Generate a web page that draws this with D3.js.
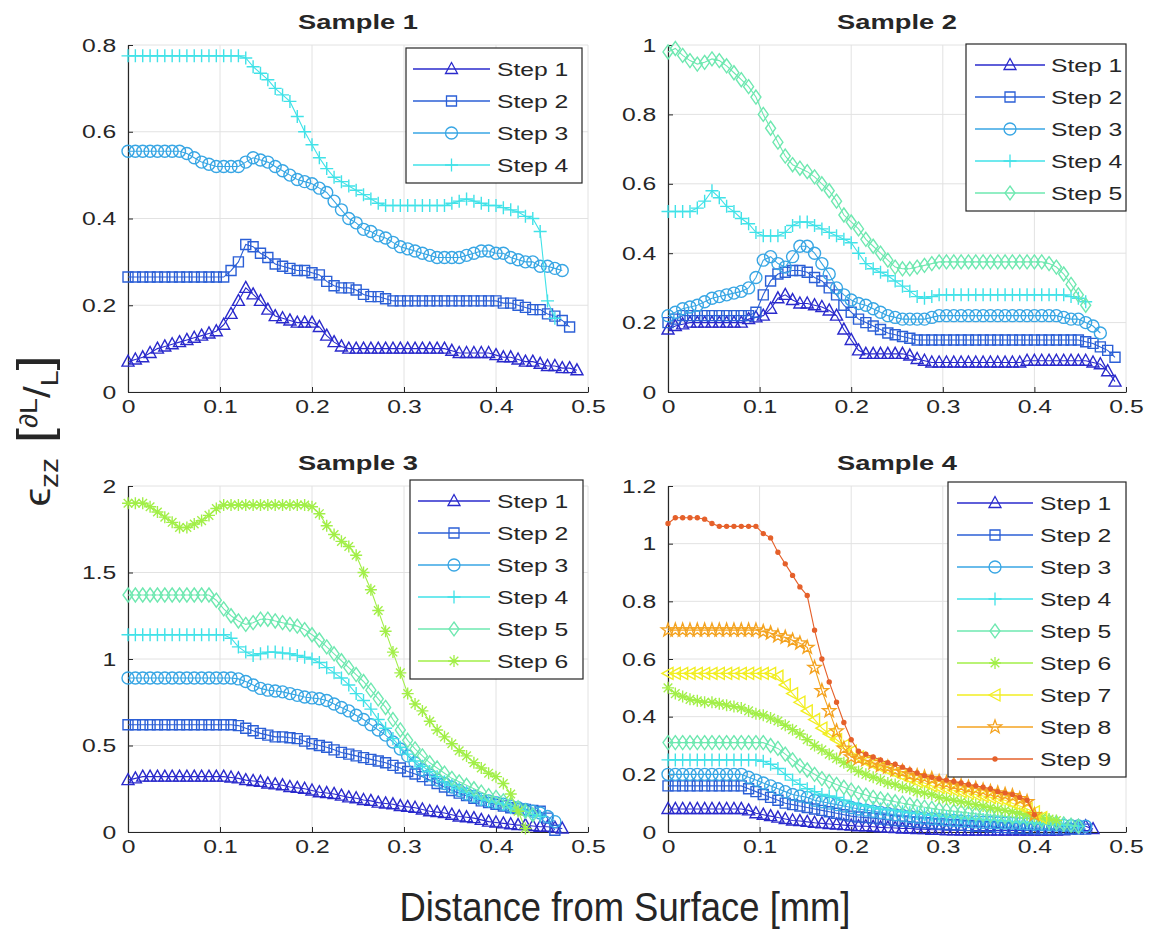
<!DOCTYPE html>
<html lang="en">
<head>
<meta charset="UTF-8">
<title>Strain vs distance from surface</title>
<script src="https://d3js.org/d3.v7.min.js"></script>
<style>
    body { margin: 0; background: #fff; }
    svg { display: block; }
</style>
</head>
<body>
<svg width="1151" height="929"></svg>
<script>
// sampling grid along the depth [mm]
const X = [0,0.008,0.016,0.024,0.032,0.04,0.048,0.056,0.064,0.072,
    0.08,0.088,0.096,0.104,0.112,0.12,0.128,0.136,0.144,0.152,
    0.16,0.168,0.176,0.184,0.192,0.2,0.208,0.216,0.224,0.232,
    0.24,0.248,0.256,0.264,0.272,0.28,0.288,0.296,0.304,0.312,
    0.32,0.328,0.336,0.344,0.352,0.36,0.368,0.376,0.384,0.392,
    0.4,0.408,0.416,0.424,0.432,0.44,0.448,0.456,0.464,0.472,
    0.48,0.488];

// Sample 1
const s1_step1 = [0.07,0.075,0.08,0.09,0.10,0.105,0.11,0.115,0.12,0.125,
    0.13,0.135,0.14,0.155,0.18,0.21,0.24,0.225,0.21,0.19,
    0.175,0.17,0.165,0.16,0.16,0.16,0.15,0.13,0.115,0.105,
    0.10,0.10,0.10,0.10,0.10,0.10,0.10,0.10,0.10,0.10,
    0.10,0.10,0.10,0.10,0.095,0.09,0.09,0.09,0.09,0.09,
    0.085,0.08,0.08,0.075,0.07,0.07,0.065,0.06,0.06,0.055,
    0.055,0.05];
const s1_step2 = [0.265,0.265,0.265,0.265,0.265,0.265,0.265,0.265,0.265,0.265,
    0.265,0.265,0.265,0.265,0.28,0.30,0.34,0.335,0.32,0.31,
    0.295,0.29,0.285,0.28,0.28,0.275,0.27,0.255,0.245,0.24,
    0.24,0.235,0.225,0.22,0.22,0.215,0.21,0.21,0.21,0.21,
    0.21,0.21,0.21,0.21,0.21,0.21,0.21,0.21,0.21,0.21,
    0.21,0.205,0.205,0.20,0.195,0.19,0.19,0.18,0.175,0.165,
    0.15];
const s1_step3 = [0.555,0.555,0.555,0.555,0.555,0.555,0.555,0.555,0.55,0.54,
    0.53,0.525,0.52,0.52,0.52,0.52,0.53,0.54,0.535,0.53,
    0.52,0.51,0.50,0.49,0.485,0.48,0.47,0.46,0.44,0.42,
    0.40,0.39,0.375,0.37,0.36,0.355,0.345,0.335,0.33,0.325,
    0.32,0.315,0.31,0.31,0.31,0.31,0.315,0.32,0.325,0.325,
    0.32,0.32,0.31,0.305,0.30,0.30,0.29,0.29,0.285,0.28];
const s1_step4 = [0.775,0.775,0.775,0.775,0.775,0.775,0.775,0.775,0.775,0.775,
    0.775,0.775,0.775,0.775,0.775,0.775,0.77,0.75,0.735,0.72,
    0.70,0.685,0.67,0.635,0.60,0.57,0.54,0.515,0.495,0.485,
    0.475,0.465,0.455,0.445,0.435,0.43,0.43,0.43,0.43,0.43,
    0.43,0.43,0.43,0.43,0.435,0.44,0.445,0.44,0.435,0.43,
    0.43,0.425,0.42,0.415,0.405,0.40,0.37,0.21,0.17];

// Sample 2
const s2_step1 = [0.18,0.19,0.195,0.20,0.20,0.20,0.20,0.20,0.20,0.20,
    0.20,0.21,0.215,0.22,0.24,0.27,0.28,0.265,0.255,0.255,
    0.25,0.245,0.235,0.22,0.18,0.15,0.12,0.11,0.11,0.11,
    0.11,0.11,0.11,0.105,0.095,0.09,0.085,0.085,0.085,0.085,
    0.085,0.085,0.085,0.085,0.085,0.085,0.085,0.085,0.085,0.09,
    0.09,0.09,0.09,0.09,0.09,0.09,0.09,0.09,0.085,0.08,
    0.06,0.03];
const s2_step2 = [0.20,0.21,0.22,0.22,0.22,0.22,0.22,0.22,0.22,0.22,
    0.22,0.22,0.23,0.28,0.32,0.34,0.345,0.35,0.35,0.345,
    0.33,0.32,0.30,0.28,0.25,0.23,0.21,0.20,0.19,0.18,
    0.17,0.165,0.16,0.155,0.15,0.15,0.15,0.15,0.15,0.15,
    0.15,0.15,0.15,0.15,0.15,0.15,0.15,0.15,0.15,0.15,
    0.15,0.15,0.15,0.15,0.15,0.15,0.15,0.145,0.14,0.13,
    0.12,0.10];
const s2_step3 = [0.22,0.23,0.24,0.245,0.25,0.26,0.27,0.275,0.28,0.285,
    0.29,0.30,0.33,0.38,0.39,0.37,0.36,0.39,0.42,0.42,
    0.40,0.37,0.34,0.30,0.28,0.265,0.255,0.25,0.24,0.23,
    0.22,0.215,0.21,0.21,0.21,0.21,0.215,0.22,0.22,0.22,
    0.22,0.22,0.22,0.22,0.22,0.22,0.22,0.22,0.22,0.22,
    0.22,0.22,0.22,0.22,0.215,0.21,0.21,0.20,0.19,0.17];
const s2_step4 = [0.52,0.52,0.52,0.52,0.53,0.55,0.58,0.56,0.535,0.52,
    0.50,0.485,0.46,0.45,0.45,0.45,0.46,0.48,0.49,0.49,
    0.48,0.47,0.46,0.45,0.44,0.43,0.40,0.37,0.355,0.345,
    0.335,0.32,0.305,0.29,0.275,0.27,0.275,0.28,0.28,0.28,
    0.28,0.28,0.28,0.28,0.28,0.28,0.28,0.28,0.28,0.28,
    0.28,0.28,0.28,0.28,0.28,0.275,0.27,0.26];
const s2_step5 = [0.98,0.99,0.97,0.955,0.945,0.95,0.96,0.955,0.94,0.92,
    0.90,0.88,0.85,0.80,0.76,0.72,0.68,0.655,0.645,0.635,
    0.62,0.60,0.58,0.55,0.51,0.49,0.47,0.44,0.42,0.40,
    0.38,0.36,0.355,0.355,0.36,0.365,0.37,0.375,0.375,0.375,
    0.375,0.375,0.375,0.375,0.375,0.375,0.375,0.375,0.375,0.375,
    0.375,0.375,0.37,0.36,0.34,0.31,0.28,0.25];

// Sample 3
const s3_step1 = [0.30,0.31,0.32,0.32,0.32,0.32,0.32,0.32,0.32,0.32,
    0.32,0.32,0.32,0.32,0.315,0.31,0.30,0.295,0.29,0.28,
    0.275,0.27,0.26,0.255,0.25,0.24,0.23,0.225,0.22,0.21,
    0.20,0.195,0.185,0.18,0.17,0.165,0.16,0.15,0.145,0.14,
    0.13,0.12,0.115,0.11,0.10,0.09,0.085,0.08,0.07,0.06,
    0.055,0.05,0.045,0.04,0.04,0.035,0.03,0.03,0.025,0.02];
const s3_step2 = [0.62,0.62,0.62,0.62,0.62,0.62,0.62,0.62,0.62,0.62,
    0.62,0.62,0.62,0.62,0.62,0.615,0.60,0.585,0.57,0.56,
    0.55,0.55,0.545,0.54,0.525,0.51,0.50,0.49,0.475,0.46,
    0.45,0.44,0.43,0.42,0.41,0.40,0.385,0.37,0.35,0.335,
    0.32,0.30,0.28,0.26,0.24,0.225,0.21,0.195,0.18,0.17,
    0.16,0.15,0.14,0.135,0.13,0.125,0.12,0.08,0.01];
const s3_step3 = [0.89,0.89,0.89,0.89,0.89,0.89,0.89,0.89,0.89,0.89,
    0.89,0.89,0.89,0.89,0.89,0.885,0.87,0.85,0.83,0.82,
    0.815,0.81,0.80,0.79,0.78,0.775,0.77,0.76,0.74,0.72,
    0.70,0.675,0.65,0.62,0.59,0.56,0.52,0.48,0.44,0.40,
    0.36,0.33,0.30,0.28,0.26,0.24,0.22,0.205,0.19,0.18,
    0.17,0.16,0.15,0.14,0.13,0.12,0.11,0.09,0.06];
const s3_step4 = [1.14,1.14,1.14,1.14,1.14,1.14,1.14,1.14,1.14,1.14,
    1.14,1.14,1.14,1.14,1.12,1.07,1.04,1.02,1.03,1.04,
    1.04,1.035,1.03,1.02,1.01,1.00,0.98,0.95,0.92,0.89,
    0.85,0.80,0.76,0.71,0.65,0.60,0.54,0.49,0.45,0.41,
    0.38,0.35,0.32,0.29,0.27,0.25,0.23,0.21,0.19,0.18,
    0.17,0.16,0.14,0.13,0.12,0.10,0.09];
const s3_step5 = [1.37,1.37,1.37,1.37,1.37,1.37,1.37,1.37,1.37,1.37,
    1.37,1.37,1.34,1.29,1.25,1.22,1.20,1.21,1.23,1.23,
    1.22,1.21,1.20,1.19,1.17,1.14,1.11,1.07,1.03,0.99,
    0.95,0.91,0.87,0.82,0.77,0.72,0.65,0.59,0.53,0.48,
    0.44,0.40,0.37,0.34,0.31,0.29,0.27,0.25,0.23,0.21,
    0.20,0.18,0.16,0.14,0.12,0.10];
const s3_step6 = [1.90,1.90,1.90,1.88,1.85,1.82,1.79,1.76,1.76,1.78,
    1.80,1.83,1.87,1.89,1.89,1.89,1.89,1.89,1.89,1.89,
    1.89,1.89,1.89,1.89,1.89,1.88,1.84,1.77,1.72,1.68,
    1.65,1.60,1.50,1.40,1.28,1.16,1.04,0.92,0.80,0.74,
    0.70,0.64,0.59,0.55,0.51,0.47,0.44,0.40,0.37,0.34,
    0.32,0.28,0.22,0.12,0.02];

// Sample 4
const s4_step1 = [0.08,0.08,0.08,0.08,0.08,0.08,0.08,0.08,0.08,0.08,
    0.08,0.075,0.065,0.06,0.055,0.05,0.045,0.04,0.038,0.035,
    0.032,0.03,0.028,0.026,0.024,0.022,0.02,0.02,0.018,0.016,
    0.015,0.014,0.012,0.012,0.01,0.01,0.008,0.008,0.006,0.006,
    0.005,0.005,0.005,0.005,0.005,0.005,0.005,0.005,0.005,0.005,
    0.005,0.005,0.005,0.005,0.006,0.01,0.02,0.02,0.01];
const s4_step2 = [0.16,0.16,0.16,0.16,0.16,0.16,0.16,0.16,0.16,0.16,
    0.16,0.15,0.14,0.13,0.12,0.11,0.10,0.095,0.09,0.085,
    0.08,0.075,0.07,0.065,0.06,0.055,0.052,0.05,0.048,0.045,
    0.042,0.04,0.038,0.036,0.034,0.032,0.03,0.028,0.026,0.025,
    0.024,0.022,0.02,0.02,0.018,0.016,0.015,0.014,0.013,0.012,
    0.011,0.01,0.01,0.01,0.01,0.01,0.01,0.01];
const s4_step3 = [0.20,0.20,0.20,0.20,0.20,0.20,0.20,0.20,0.20,0.20,
    0.20,0.19,0.18,0.17,0.16,0.15,0.14,0.13,0.125,0.12,
    0.11,0.105,0.10,0.095,0.09,0.085,0.08,0.076,0.072,0.068,
    0.064,0.06,0.057,0.054,0.051,0.048,0.046,0.044,0.042,0.04,
    0.038,0.036,0.035,0.034,0.033,0.032,0.031,0.03,0.029,0.028,
    0.027,0.026,0.025,0.024,0.023,0.022,0.021,0.02];
const s4_step4 = [0.25,0.25,0.25,0.25,0.25,0.25,0.25,0.25,0.25,0.25,
    0.25,0.25,0.25,0.245,0.235,0.22,0.20,0.18,0.165,0.15,
    0.14,0.13,0.125,0.12,0.11,0.10,0.095,0.09,0.085,0.08,
    0.077,0.074,0.07,0.067,0.064,0.061,0.058,0.055,0.053,0.051,
    0.049,0.047,0.045,0.043,0.041,0.04,0.038,0.036,0.034,0.033,
    0.032,0.03,0.028,0.026,0.024,0.022,0.02];
const s4_step5 = [0.31,0.31,0.31,0.31,0.31,0.31,0.31,0.31,0.31,0.31,
    0.31,0.31,0.31,0.31,0.30,0.29,0.27,0.25,0.23,0.215,
    0.20,0.185,0.175,0.165,0.155,0.145,0.135,0.128,0.12,0.115,
    0.11,0.105,0.10,0.095,0.09,0.086,0.082,0.078,0.075,0.072,
    0.069,0.066,0.063,0.06,0.058,0.056,0.054,0.052,0.05,0.047,
    0.044,0.04,0.036,0.032,0.028,0.024,0.02];
const s4_step6 = [0.50,0.48,0.47,0.46,0.455,0.45,0.45,0.445,0.44,0.435,
    0.43,0.42,0.41,0.405,0.395,0.385,0.37,0.355,0.34,0.32,
    0.30,0.285,0.27,0.255,0.24,0.225,0.21,0.20,0.19,0.18,
    0.17,0.165,0.155,0.15,0.14,0.135,0.13,0.12,0.115,0.11,
    0.105,0.10,0.095,0.09,0.085,0.08,0.075,0.07,0.065,0.06,
    0.055,0.05,0.045,0.04];
const s4_step7 = [0.55,0.55,0.55,0.55,0.55,0.55,0.55,0.55,0.55,0.55,
    0.55,0.55,0.55,0.55,0.55,0.54,0.51,0.48,0.45,0.42,
    0.39,0.36,0.34,0.32,0.30,0.28,0.26,0.245,0.235,0.225,
    0.215,0.205,0.195,0.185,0.175,0.17,0.16,0.155,0.15,0.145,
    0.14,0.135,0.13,0.125,0.12,0.115,0.11,0.10,0.09,0.08,
    0.07,0.05];
const s4_step8 = [0.70,0.70,0.70,0.70,0.70,0.70,0.70,0.70,0.70,0.70,
    0.70,0.70,0.70,0.695,0.69,0.68,0.675,0.665,0.655,0.64,
    0.57,0.49,0.42,0.35,0.29,0.26,0.255,0.25,0.24,0.23,
    0.225,0.215,0.21,0.20,0.195,0.19,0.185,0.175,0.17,0.165,
    0.16,0.155,0.15,0.145,0.14,0.135,0.13,0.125,0.115,0.105,
    0.06];
const s4_step9 = [1.07,1.09,1.09,1.09,1.09,1.085,1.07,1.06,1.06,1.06,
    1.06,1.06,1.06,1.035,1.02,0.97,0.93,0.89,0.85,0.82,
    0.70,0.60,0.52,0.45,0.38,0.32,0.28,0.27,0.26,0.25,
    0.24,0.235,0.225,0.215,0.205,0.195,0.19,0.185,0.18,0.175,
    0.17,0.165,0.16,0.155,0.15,0.14,0.135,0.13,0.12,0.11,
    0.06];

const sampleTitles = ["Sample 1", "Sample 2", "Sample 3", "Sample 4"];
const stepNames = ["Step 1","Step 2","Step 3","Step 4","Step 5","Step 6","Step 7","Step 8","Step 9"];
const stepColors = ["#2a2acc","#2b5fd6","#38a6e4","#40e2e8","#6ee8b0","#a2ef48","#f2ee22","#f4a320","#e5602a"];
const stepMarkers = ["triangle","square","circle","plus","diamond","asterisk","triangleLeft","pentagram","point"];
const xTicks = [0, 0.1, 0.2, 0.3, 0.4, 0.5];
const yTicks1 = [0, 0.2, 0.4, 0.6, 0.8];
const yTicks2 = [0, 0.2, 0.4, 0.6, 0.8, 1];
const yTicks3 = [0, 0.5, 1, 1.5, 2];
const yTicks4 = [0, 0.2, 0.4, 0.6, 0.8, 1, 1.2];

const FONT = "'Liberation Sans', Arial, Helvetica, sans-serif";
const INK = "#262626";
const STRETCH = 1.3;   // text in the original figure is stretched sideways

const panels = [
    {title: sampleTitles[0], series: [s1_step1, s1_step2, s1_step3, s1_step4], yTicks: yTicks1,
     left: 128, right: 588, top: 45, bottom: 392,
     leg: {x: 406, y: 48, w: 176, l0: 413, l1: 490, tx: 497}},
    {title: sampleTitles[1], series: [s2_step1, s2_step2, s2_step3, s2_step4, s2_step5], yTicks: yTicks2,
     left: 668, right: 1126, top: 45, bottom: 392,
     leg: {x: 966, y: 44, w: 160, l0: 975, l1: 1045, tx: 1051}},
    {title: sampleTitles[2], series: [s3_step1, s3_step2, s3_step3, s3_step4, s3_step5, s3_step6], yTicks: yTicks3,
     left: 128, right: 588, top: 486, bottom: 832,
     leg: {x: 410, y: 480, w: 173, l0: 418, l1: 490, tx: 497}},
    {title: sampleTitles[3], series: [s4_step1, s4_step2, s4_step3, s4_step4, s4_step5, s4_step6, s4_step7, s4_step8, s4_step9], yTicks: yTicks4,
     left: 668, right: 1126, top: 486, bottom: 832,
     leg: {x: 948, y: 482, w: 178, l0: 957, l1: 1033, tx: 1040}}
];

const svg = d3.select("svg");

// marker shapes, centred on 0,0
function markerPath(type) {
    switch (type) {
        case "triangle": return "M0,-6.5L6,4.5L-6,4.5Z";
        case "square": return "M-5,-5h10v10h-10Z";
        case "circle": return "M6,0A6,6 0 1,1 -6,0A6,6 0 1,1 6,0Z";
        case "plus": return "M-6.5,0H6.5M0,-6.5V6.5";
        case "diamond": return "M0,-7L5,0L0,7L-5,0Z";
        case "asterisk": return "M-6,0H6M0,-6V6M-4.3,-4.3L4.3,4.3M-4.3,4.3L4.3,-4.3";
        case "triangleLeft": return "M-6,0L5,-6L5,6Z";
        case "pentagram": {
            let pts = [];
            for (let k = 0; k < 10; k++) {
                let r = k % 2 ? 2.8 : 7;
                let a = -Math.PI / 2 + k * Math.PI / 5;
                pts.push([r * Math.cos(a), r * Math.sin(a)]);
            }
            return "M" + pts.map(p => p[0].toFixed(2) + "," + p[1].toFixed(2)).join("L") + "Z";
        }
        case "point": return "M2,0A2,2 0 1,1 -2,0A2,2 0 1,1 2,0Z";
    }
}

function stretchedText(g, x, y, str, size, anchor, weight) {
    return g.append("text")
        .attr("transform", `translate(${x},${y}) scale(${STRETCH},1)`)
        .attr("text-anchor", anchor)
        .attr("font-family", FONT)
        .attr("font-size", size)
        .attr("font-weight", weight || "normal")
        .attr("fill", INK)
        .text(str);
}

panels.forEach(function (p) {
    const g = svg.append("g");
    const x = d3.scaleLinear().domain([0, 0.5]).range([p.left, p.right]);
    const y = d3.scaleLinear().domain([0, d3.max(p.yTicks)]).range([p.bottom, p.top]);

    // grid
    g.append("g").selectAll("line").data(xTicks).join("line")
        .attr("x1", d => x(d)).attr("x2", d => x(d))
        .attr("y1", p.top).attr("y2", p.bottom)
        .attr("stroke", "#e2e2e2").attr("stroke-width", 1);
    g.append("g").selectAll("line").data(p.yTicks).join("line")
        .attr("x1", p.left).attr("x2", p.right)
        .attr("y1", d => y(d)).attr("y2", d => y(d))
        .attr("stroke", "#e2e2e2").attr("stroke-width", 1);

    // axes
    const fmt = d => String(d);
    const xa = g.append("g").attr("transform", `translate(0,${p.bottom})`)
        .call(d3.axisBottom(x).tickValues(xTicks).tickSizeInner(-5).tickSizeOuter(0).tickPadding(8).tickFormat(fmt));
    const ya = g.append("g").attr("transform", `translate(${p.left},0)`)
        .call(d3.axisLeft(y).tickValues(p.yTicks).tickSizeInner(-5).tickSizeOuter(0).tickPadding(9).tickFormat(fmt));
    [xa, ya].forEach(a => {
        a.attr("font-family", FONT).attr("font-size", 19);
        a.select(".domain").attr("stroke", INK).attr("stroke-width", 1.2);
        a.selectAll(".tick line").attr("stroke", INK);
        a.selectAll(".tick text").attr("fill", INK).attr("transform", `scale(${STRETCH},1)`);
    });

    // title
    stretchedText(g, (p.left + p.right) / 2, p.top - 16, p.title, 21, "middle", "bold");

    // series
    const line = d3.line().x(d => x(d[0])).y(d => y(d[1]));
    p.series.forEach(function (vals, i) {
        const pts = vals.map((v, j) => [X[j], v]);
        const col = stepColors[i];
        const sg = g.append("g");
        sg.append("path").attr("d", line(pts))
            .attr("fill", "none").attr("stroke", col).attr("stroke-width", 1.1);
        sg.selectAll("path.m").data(pts).join("path").attr("class", "m")
            .attr("transform", d => `translate(${x(d[0])},${y(d[1])})`)
            .attr("d", markerPath(stepMarkers[i]))
            .attr("fill", stepMarkers[i] === "point" ? col : "none")
            .attr("stroke", col).attr("stroke-width", 1.4);
    });

    // legend
    const n = p.series.length;
    const L = p.leg;
    const lg = g.append("g");
    lg.append("rect").attr("x", L.x).attr("y", L.y)
        .attr("width", L.w).attr("height", 21 + 32 * (n - 1) + 18)
        .attr("fill", "#fff").attr("stroke", INK).attr("stroke-width", 1.2);
    for (let i = 0; i < n; i++) {
        const ry = L.y + 21 + 32 * i;
        lg.append("line").attr("x1", L.l0).attr("x2", L.l1).attr("y1", ry).attr("y2", ry)
            .attr("stroke", stepColors[i]).attr("stroke-width", 1.3);
        lg.append("path").attr("transform", `translate(${(L.l0 + L.l1) / 2},${ry})`)
            .attr("d", markerPath(stepMarkers[i]))
            .attr("fill", stepMarkers[i] === "point" ? stepColors[i] : "none")
            .attr("stroke", stepColors[i]).attr("stroke-width", 1.3);
        stretchedText(lg, L.tx, ry + 7, stepNames[i], 19, "start");
    }
});

// shared axis labels
svg.append("text")
    .attr("transform", "translate(625,921) scale(0.91,1)")
    .attr("text-anchor", "middle")
    .attr("font-family", FONT).attr("font-size", 40).attr("fill", INK)
    .text("Distance from Surface [mm]");

const yl = svg.append("text")
    .attr("transform", "translate(50,431) rotate(-90) scale(1.5,1.3)")
    .attr("text-anchor", "middle")
    .attr("font-family", FONT).attr("font-size", 28).attr("fill", INK);
yl.append("tspan").text("\u03F5");
yl.append("tspan").attr("font-size", 20).attr("dy", 6).text("zz");
yl.append("tspan").attr("font-size", 36).attr("dy", -6).text(" [");
yl.append("tspan").attr("font-size", 19).attr("dy", -10).text("\u2202L");
yl.append("tspan").attr("font-size", 28).attr("dy", 10).text("/");
yl.append("tspan").attr("font-size", 19).attr("dy", 6).text("L");
yl.append("tspan").attr("font-size", 36).attr("dy", -6).text("]");
</script>
</body>
</html>
